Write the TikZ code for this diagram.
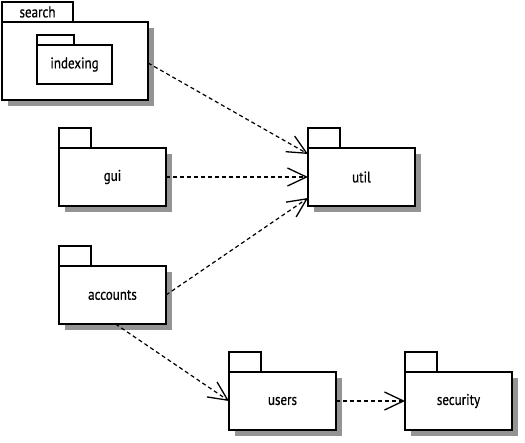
\documentclass[tikz,border=0pt]{standalone}
\usepackage{fontspec}
\setmainfont[FakeStretch=0.84,FakeBold=0.6]{PT Sans}
\usetikzlibrary{arrows.meta,shadows,calc}
\begin{document}
\begin{tikzpicture}[x=1pt,y=-1pt,
  box/.style={draw, line width=1.5pt, fill=white, inner sep=0pt, outer sep=0pt,
    font=\fontsize{15.5}{17}\selectfont},
  pkg/.style={box, minimum width=107pt, minimum height=58pt,
    drop shadow={shadow xshift=6pt, shadow yshift=-6pt, fill=black!42, opacity=1}},
  tab/.style={box, minimum width=32pt, minimum height=20pt, anchor=south west},
  dep/.style={line width=1.2pt, dash pattern=on 4pt off 3pt,
    -{Straight Barb[length=19pt,width=18pt,line width=1.3pt]}}
]
\useasboundingbox (0,0) rectangle (525,442);

% search with nested indexing
\node[pkg, minimum width=146pt, minimum height=78pt] (search) at (75,61) {};
\node[tab, minimum width=71pt] (searchtab) at (search.north west) {search};
\node[box, minimum width=75pt, minimum height=39pt] (indexing) at (74.5,64.5) {indexing};
\node[tab, minimum width=37pt, minimum height=10pt] (indexingtab) at (indexing.north west) {};

% other packages
\node[pkg] (gui) at (112.5,177) {gui};
\node[tab] (guitab) at (gui.north west) {};
\node[pkg] (util) at (361.5,177) {util};
\node[tab] (utiltab) at (util.north west) {};
\node[pkg] (accounts) at (112.5,295) {accounts};
\node[tab] (accountstab) at (accounts.north west) {};
\node[pkg] (users) at (282.5,401) {users};
\node[tab] (userstab) at (users.north west) {};
\node[pkg] (security) at (458.5,401) {security};
\node[tab] (securitytab) at (security.north west) {};

% dependencies
\draw[dep] ([yshift=-2pt]search.east) -- ([yshift=-6pt]util.north west);
\draw[dep] (gui.east) -- (util.west);
\draw[dep] (accounts.east) -- ([yshift=8pt]util.south west);
\draw[dep] ([xshift=3pt]accounts.south) -- (users.west);
\draw[dep] (users.east) -- (security.west);
\end{tikzpicture}
\end{document}
